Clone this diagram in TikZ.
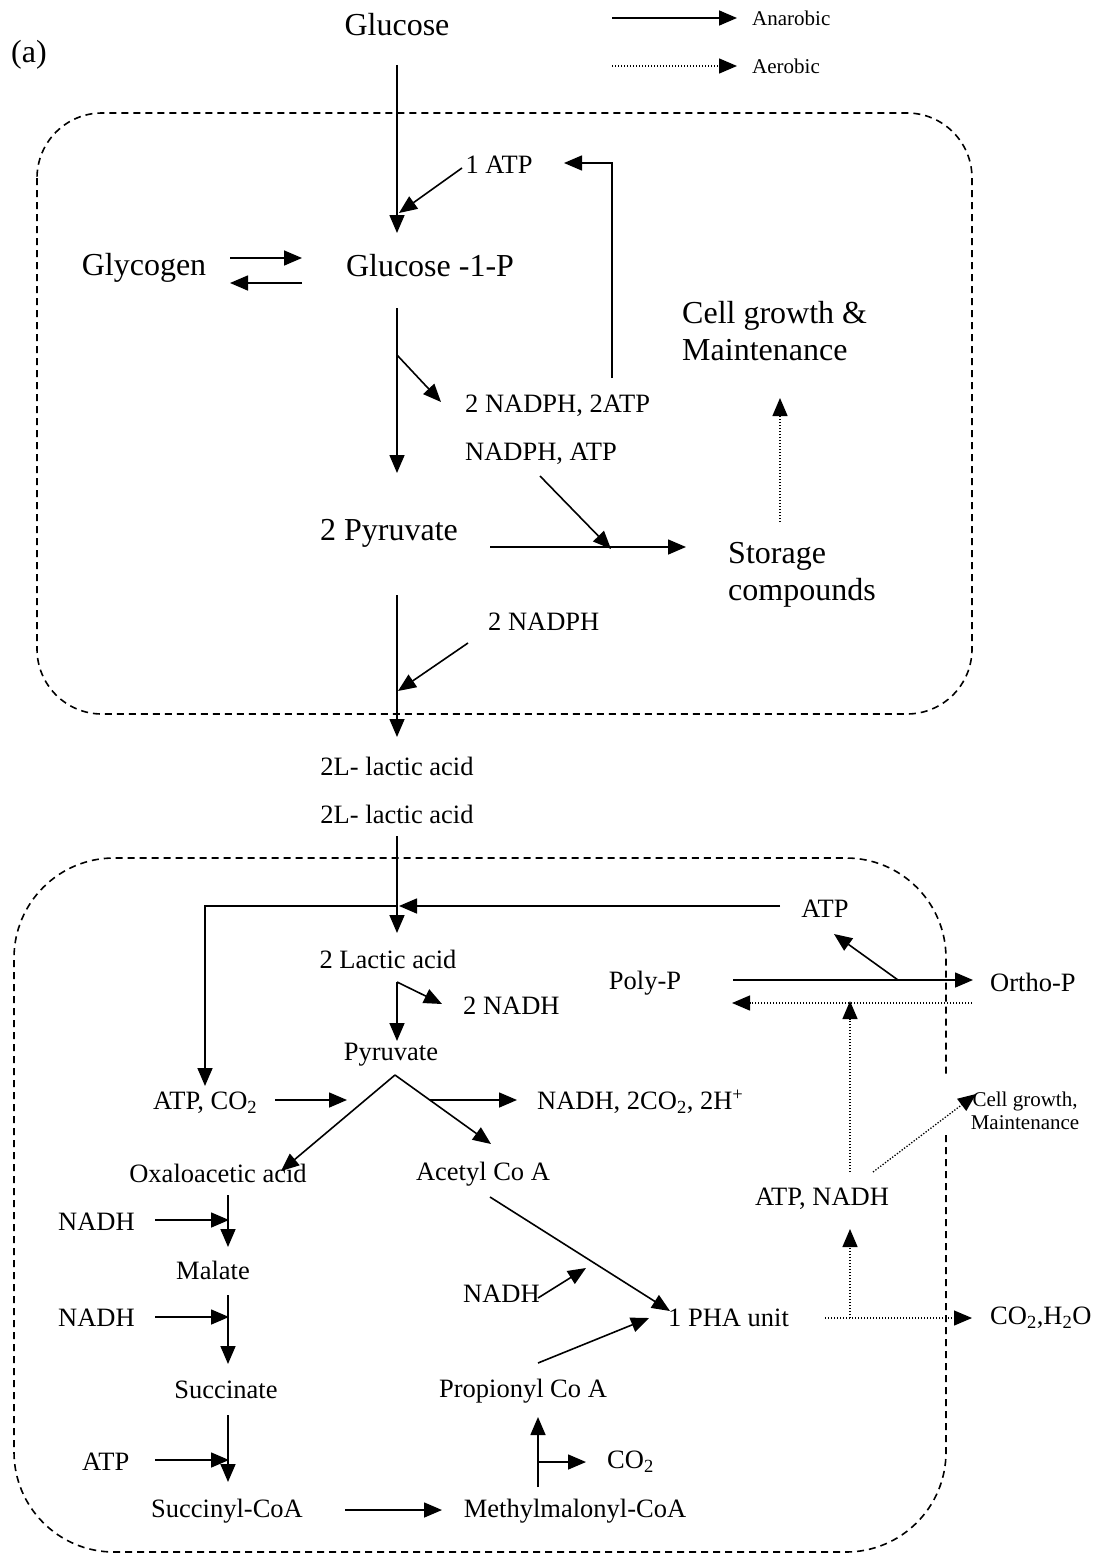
\documentclass[tikz,border=0pt]{standalone}
\usepackage{fontspec}
\setmainfont{Liberation Serif}
\usetikzlibrary{arrows.meta}
\begin{document}
\begin{tikzpicture}[x=1pt,y=-1pt,
 big/.style={font=\fontsize{32}{37}\selectfont, inner sep=0pt, align=left},
 mid/.style={font=\fontsize{26.5}{30}\selectfont, inner sep=0pt},
 sml/.style={font=\fontsize{21}{23}\selectfont, inner sep=0pt, align=center},
 arr/.style={line width=1.6, -{Triangle[length=18,width=15]}},
 dotarr/.style={line width=1.3, dash pattern=on 1.3 off 1.7, -{Triangle[length=18,width=15]}},
 dotline/.style={line width=1.3, dash pattern=on 1.3 off 1.7},
 boxline/.style={line width=1.6, dash pattern=on 7 off 5}]
\useasboundingbox (0,0) rectangle (1097,1555);
% legend
\coordinate (lgA0) at (612,18); \coordinate (lgA1) at (737,18);
\coordinate (lgB0) at (612,66); \coordinate (lgB1) at (737,66);
\draw[arr] (lgA0) -- (lgA1);
\draw[dotarr] (lgB0) -- (lgB1);
\node[sml, anchor=west] (anar) at (752,18) {Anarobic};
\node[sml, anchor=west] (aero) at (752,66) {Aerobic};
% boxes
\draw[boxline, rounded corners=65] (37,113) rectangle (972,714);
\draw[boxline, rounded corners=100] (946,1135) -- (946,1552) -- (14,1552) -- (14,858) -- (946,858) -- (946,1078);
% upper texts
\node[big] (lbl) at (29,55) {(a)};
\node[big] (glucose) at (397,25) {Glucose};
\node[mid] (oneatp) at (499,165) {1 ATP};
\node[big] (glycogen) at (144,268) {Glycogen};
\node[big] (g1p) at (430,266) {Glucose -1-P};
\node[big, anchor=west] (cellgr) at (682,331) {Cell growth \&\\Maintenance};
\node[mid, anchor=west] (nadph2atp) at (465,406) {2 NADPH, 2ATP};
\node[mid, anchor=west] (nadphatp) at (465,454) {NADPH, ATP};
\node[big] (pyr) at (389,533) {2 Pyruvate};
\node[big, anchor=west] (storage) at (728,575) {Storage\\compounds};
\node[mid, anchor=west] (twonadph) at (488,622) {2 NADPH};
\node[mid] (lac1) at (397,766) {2L- lactic acid};
\node[mid] (lac2) at (397,814) {2L- lactic acid};
% upper arrows
\coordinate (gl0) at (397,65); \coordinate (gl1) at (397,233);
\draw[arr] (gl0) -- (gl1);
\coordinate (atpA) at (462,168); \coordinate (atpB) at (399,213);
\draw[arr] (atpA) -- (atpB);
\coordinate (rt0) at (612,378); \coordinate (rt1) at (612,163); \coordinate (rt2) at (564,163);
\draw[arr] (rt0) -- (rt1) -- (rt2);
\coordinate (gy0) at (230,258); \coordinate (gy1) at (302,258);
\coordinate (gy2) at (302,283); \coordinate (gy3) at (230,283);
\draw[arr] (gy0) -- (gy1);
\draw[arr] (gy2) -- (gy3);
\coordinate (v0) at (397,308); \coordinate (v1) at (397,473);
\draw[arr] (v0) -- (v1);
\coordinate (br0) at (397,355); \coordinate (br1) at (441,402);
\draw[arr] (br0) -- (br1);
\coordinate (na0) at (540,476); \coordinate (na1) at (611,549);
\draw[arr] (na0) -- (na1);
\coordinate (st0) at (490,547); \coordinate (st1) at (686,547);
\draw[arr] (st0) -- (st1);
\coordinate (cg0) at (780,522); \coordinate (cg1) at (780,398);
\draw[dotarr] (cg0) -- (cg1);
\coordinate (pl0) at (397,595); \coordinate (pl1) at (397,737);
\draw[arr] (pl0) -- (pl1);
\coordinate (np0) at (468,643); \coordinate (np1) at (398,691);
\draw[arr] (np0) -- (np1);
% lower texts
\node[mid] (atptop) at (825,909) {ATP};
\node[mid] (lac) at (388,959) {2 Lactic acid};
\node[mid, anchor=west] (twonadh) at (463,1006) {2 NADH};
\node[mid] (pyruv) at (391,1055) {Pyruvate};
\node[mid, anchor=west] (atpco2) at (153,1103) {ATP, CO\textsubscript{2}};
\node[mid, anchor=west] (nadhco2) at (537,1102) {NADH, 2CO\textsubscript{2}, 2H\textsuperscript{+}};
\node[mid] (oxalo) at (218,1173) {Oxaloacetic acid};
\node[mid] (acetyl) at (483,1174) {Acetyl Co A};
\node[mid, anchor=west] (nadhA) at (58,1222) {NADH};
\node[mid] (malate) at (213,1270) {Malate};
\node[mid, anchor=west] (nadhB) at (58,1318) {NADH};
\node[mid] (succ) at (226,1390) {Succinate};
\node[mid, anchor=west] (atpC) at (82,1462) {ATP};
\node[mid] (succoa) at (227,1511) {Succinyl-CoA};
\node[mid] (methyl) at (575,1511) {Methylmalonyl-CoA};
\node[mid, anchor=west] (co2) at (607,1462) {CO\textsubscript{2}};
\node[mid] (propionyl) at (523,1391) {Propionyl Co A};
\node[mid, anchor=west] (nadhC) at (463,1294) {NADH};
\node[mid, anchor=west] (pha) at (668,1318) {1 PHA unit};
\node[mid, anchor=west] (co2h2o) at (990,1318) {CO\textsubscript{2},H\textsubscript{2}O};
\node[mid] (atpnadh) at (822,1199) {ATP, NADH};
\node[sml] (cellg2) at (1025,1111) {Cell growth,\\Maintenance};
\node[mid] (polyp) at (645,983) {Poly-P};
\node[mid, anchor=west] (orthop) at (990,982) {Ortho-P};
% lower arrows
\coordinate (lv0) at (397,836); \coordinate (lv1) at (397,933);
\draw[arr] (lv0) -- (lv1);
\coordinate (hA) at (780,906); \coordinate (hB) at (399,906);
\draw[arr] (hA) -- (hB);
\coordinate (hC) at (397,906); \coordinate (hD) at (205,1086);
\draw[arr] (hC) -| (hD);
\coordinate (la0) at (397,982); \coordinate (la1) at (397,1041); \coordinate (la2) at (442,1004);
\draw[arr] (la0) -- (la1);
\draw[arr] (la0) -- (la2);
\coordinate (apex) at (395,1075); \coordinate (ox1) at (281,1171); \coordinate (ac1) at (491,1144);
\draw[arr] (apex) -- (ox1);
\draw[arr] (apex) -- (ac1);
\coordinate (ac0a) at (275,1100); \coordinate (ac0b) at (347,1100);
\draw[arr] (ac0a) -- (ac0b);
\coordinate (nd0) at (430,1100); \coordinate (nd1) at (517,1100);
\draw[arr] (nd0) -- (nd1);
\coordinate (m0) at (228,1195); \coordinate (m1) at (228,1247);
\coordinate (m2) at (155,1220); \coordinate (m3) at (229,1220);
\draw[arr] (m0) -- (m1); \draw[arr] (m2) -- (m3);
\coordinate (s0) at (228,1295); \coordinate (s1) at (228,1364);
\coordinate (s2) at (155,1317); \coordinate (s3) at (229,1317);
\draw[arr] (s0) -- (s1); \draw[arr] (s2) -- (s3);
\coordinate (c0) at (228,1415); \coordinate (c1) at (228,1482);
\coordinate (c2) at (155,1460); \coordinate (c3) at (229,1460);
\draw[arr] (c0) -- (c1); \draw[arr] (c2) -- (c3);
\coordinate (mm0) at (345,1510); \coordinate (mm1) at (442,1510);
\draw[arr] (mm0) -- (mm1);
\coordinate (pp0) at (538,1487); \coordinate (pp1) at (538,1417);
\coordinate (pp2) at (538,1462); \coordinate (pp3) at (586,1462);
\draw[arr] (pp0) -- (pp1); \draw[arr] (pp2) -- (pp3);
\coordinate (ph0) at (538,1363); \coordinate (ph1) at (649,1318);
\draw[arr] (ph0) -- (ph1);
\coordinate (ph2) at (490,1197); \coordinate (ph3) at (670,1311);
\draw[arr] (ph2) -- (ph3);
\coordinate (nh0) at (538,1298); \coordinate (nh1) at (586,1268);
\draw[arr] (nh0) -- (nh1);
\coordinate (ae0) at (825,1318); \coordinate (ae1) at (972,1318);
\draw[dotarr] (ae0) -- (ae1);
\coordinate (ae2) at (850,1318); \coordinate (ae3) at (850,1229);
\draw[dotarr] (ae2) -- (ae3);
\coordinate (ae4) at (850,1172); \coordinate (ae5) at (850,1001);
\draw[dotarr] (ae4) -- (ae5);
\coordinate (ae6) at (873,1172); \coordinate (ae7) at (976,1094);
\draw[dotarr] (ae6) -- (ae7);
\coordinate (po0) at (733,980); \coordinate (po1) at (973,980);
\draw[arr] (po0) -- (po1);
\coordinate (po2) at (898,980); \coordinate (po3) at (834,934);
\draw[arr] (po2) -- (po3);
\coordinate (po4) at (972,1003); \coordinate (po5) at (732,1003);
\draw[dotarr] (po4) -- (po5);
\end{tikzpicture}
\end{document}
